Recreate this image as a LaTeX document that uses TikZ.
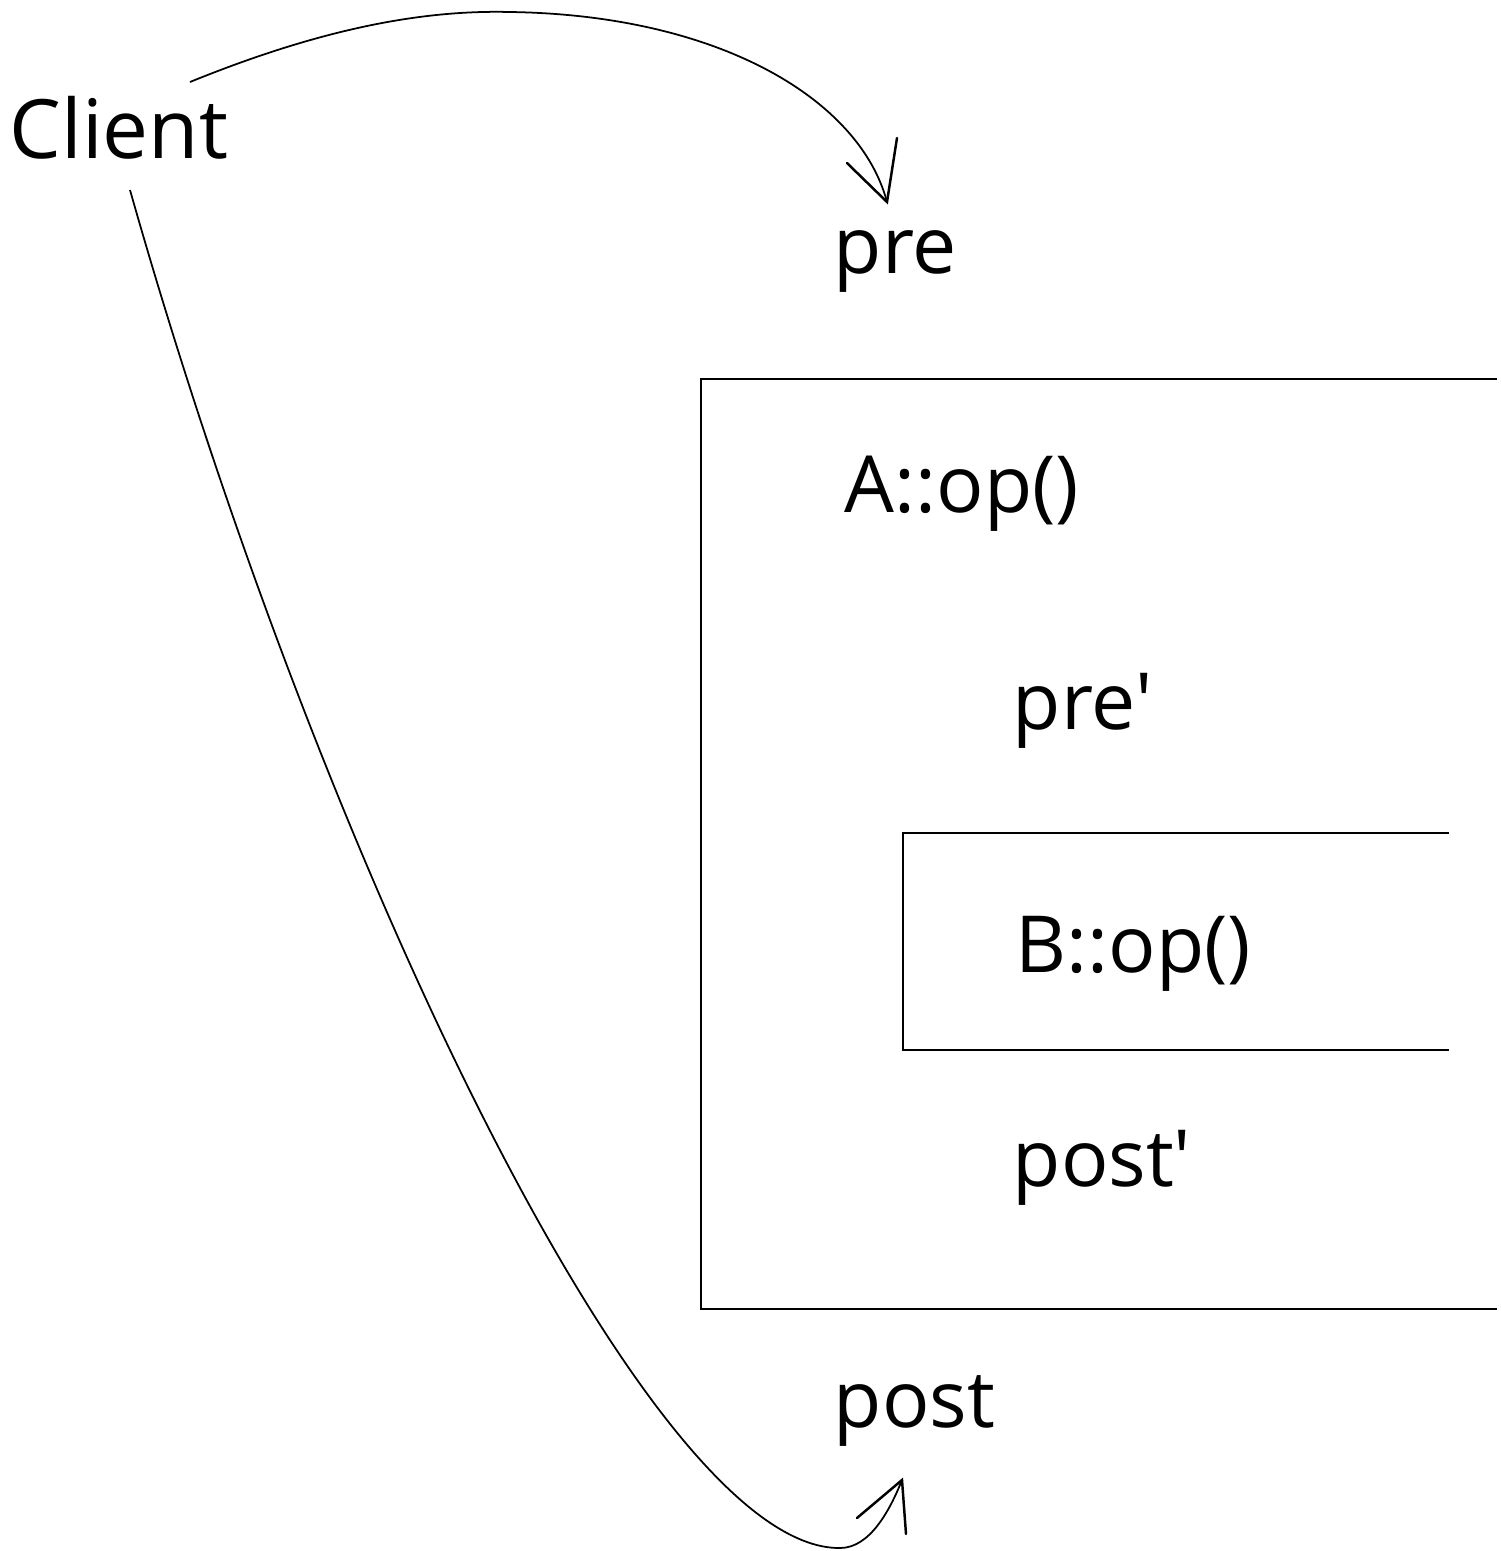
\documentclass[tikz,border=0pt]{standalone}
\usepackage{fontspec}
\setmainfont{Open Sans}
\begin{document}
\begin{tikzpicture}[x=0.01cm,y=-0.01cm,
  lbl/.style={anchor=base west,inner sep=0pt,font=\fontsize{22.4pt}{26pt}\selectfont},
  bigl/.style={anchor=base west,inner sep=0pt,font=\fontsize{23.3pt}{28pt}\selectfont},
  boxline/.style={line width=0.75pt,line cap=rect},
  curve/.style={line width=0.5pt},
  headline/.style={line width=0.7pt,line cap=round}]
\useasboundingbox (0,0) rectangle (1501,1551);
% texts
\node[bigl] (client) at (9,158) {Client};
\node[lbl] (pre) at (833,273) {pre};
\node[lbl] (aop) at (844,512) {A::op()};
\node[lbl] (prep) at (1012,729) {pre\textquotesingle};
\node[lbl] (bop) at (1015,972) {B::op()};
\node[lbl] (postp) at (1012,1186) {post\textquotesingle};
\node[lbl] (post) at (833,1427) {post};
% boxes (open on the right)
\draw[boxline] (1496,379) -- (701,379) -- (701,1309) -- (1496,1309);
\draw[boxline] (1448,833) -- (903,833) -- (903,1050) -- (1448,1050);
% connector coordinates
\coordinate (s1) at (190,82);
\coordinate (t1) at (887,202);
\coordinate (s2) at (130,190);
\coordinate (t2) at (902,1480);
% top curve
\draw[curve] (s1) .. controls (330,25) and (430,10) .. (510,12)
  .. controls (720,15) and (860,100) .. (t1);
\draw[headline] (847,163) -- (t1) -- (897,138);
% bottom curve
\draw[curve] (s2) .. controls (320,860) and (650,1550) .. (840,1548)
  .. controls (870,1548) and (890,1510) .. (t2);
\draw[headline] (857,1518) -- (t2) -- (906,1534);
\end{tikzpicture}
\end{document}
